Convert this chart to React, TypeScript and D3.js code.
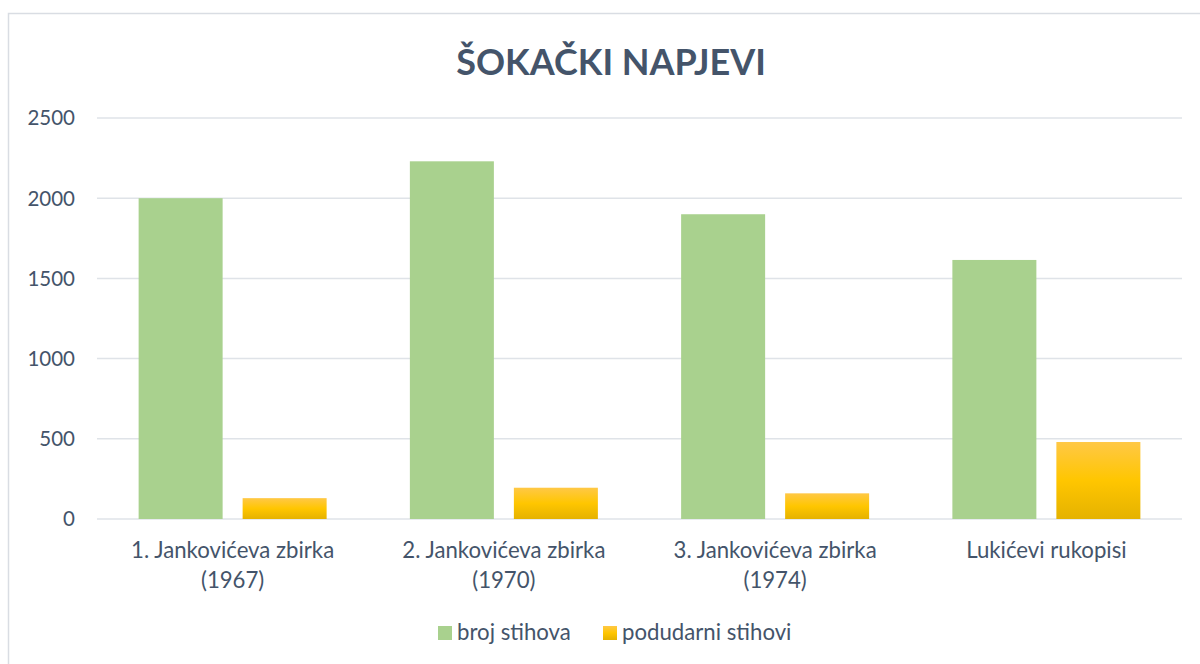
import React from "react";
import * as d3 from "d3";

const categories: string[][] = [
  ["1. Jankovićeva zbirka", "(1967)"],
  ["2. Jankovićeva zbirka", "(1970)"],
  ["3. Jankovićeva zbirka", "(1974)"],
  ["Lukićevi rukopisi"],
];
const seriesNames = ["broj stihova", "podudarni stihovi"];
const brojStihova = [2000, 2230, 1900, 1615];
const podudarniStihovi = [130, 195, 160, 480];
const yTicks = [0, 500, 1000, 1500, 2000, 2500];
const title = "ŠOKAČKI NAPJEVI";

const W = 1200;
const H = 664;
const plotLeft = 97;
const plotRight = 1182;
const plotTop = 118;
const plotBottom = 519;
const textColor = "#44546a";
const font = "Lato, 'Open Sans', sans-serif";
const green = "#a9d18e";

export default function App() {
  const x = d3
    .scaleBand<number>()
    .domain(d3.range(categories.length))
    .range([plotLeft, plotRight]);
  const y = d3.scaleLinear().domain([0, 2500]).range([plotBottom, plotTop]);
  const barW = 84;
  const gap = 20;
  const series = [brojStihova, podudarniStihovi];
  const fills = [green, "url(#gold)"];

  return (
    <svg
      width={W}
      height={H}
      style={{ position: "absolute", left: 0, top: 0, background: "#fff" }}
    >
      <defs>
        <linearGradient id="gold" x1="0" y1="0" x2="0" y2="1">
          <stop offset="0" stopColor="#ffc846" />
          <stop offset="0.5" stopColor="#ffc600" />
          <stop offset="1" stopColor="#e5b200" />
        </linearGradient>
      </defs>
      <rect
        x={8.5}
        y={13.5}
        width={1220}
        height={700}
        fill="#fff"
        stroke="#d9dde3"
        strokeWidth={1.5}
      />
      <text
        x={611}
        y={75}
        textAnchor="middle"
        fontFamily={font}
        fontWeight={700}
        fontSize={36}
        fill={textColor}
      >
        {title}
      </text>
      {yTicks.map((t) => (
        <g key={t}>
          <line
            x1={plotLeft}
            x2={plotRight}
            y1={y(t)}
            y2={y(t)}
            stroke="#dfe3e8"
            strokeWidth={1.5}
          />
          <text
            x={75}
            y={y(t)}
            dy="0.36em"
            textAnchor="end"
            fontFamily={font}
            fontSize={20.5}
            fill={textColor}
          >
            {t}
          </text>
        </g>
      ))}
      {series.map((vals, si) =>
        vals.map((v, i) => {
          const cx = (x(i) as number) + x.bandwidth() / 2;
          const bx = si === 0 ? cx - gap / 2 - barW : cx + gap / 2;
          return (
            <rect
              key={`${si}-${i}`}
              x={bx}
              y={y(v)}
              width={barW}
              height={y(0) - y(v)}
              fill={fills[si]}
            />
          );
        })
      )}
      {categories.map((lines, i) => {
        const cx = (x(i) as number) + x.bandwidth() / 2;
        return (
          <text
            key={i}
            textAnchor="middle"
            fontFamily={font}
            fontSize={22.2}
            fill={textColor}
          >
            {lines.map((l, j) => (
              <tspan key={j} x={cx} y={558 + j * 30}>
                {l}
              </tspan>
            ))}
          </text>
        );
      })}
      {seriesNames.map((name, i) => {
        const lx = i === 0 ? 438 : 603;
        return (
          <g key={name}>
            <rect x={lx} y={626} width={14} height={14} fill={fills[i]} />
            <text
              x={lx + 19}
              y={640}
              fontFamily={font}
              fontSize={22.2}
              fill={textColor}
            >
              {name}
            </text>
          </g>
        );
      })}
    </svg>
  );
}
